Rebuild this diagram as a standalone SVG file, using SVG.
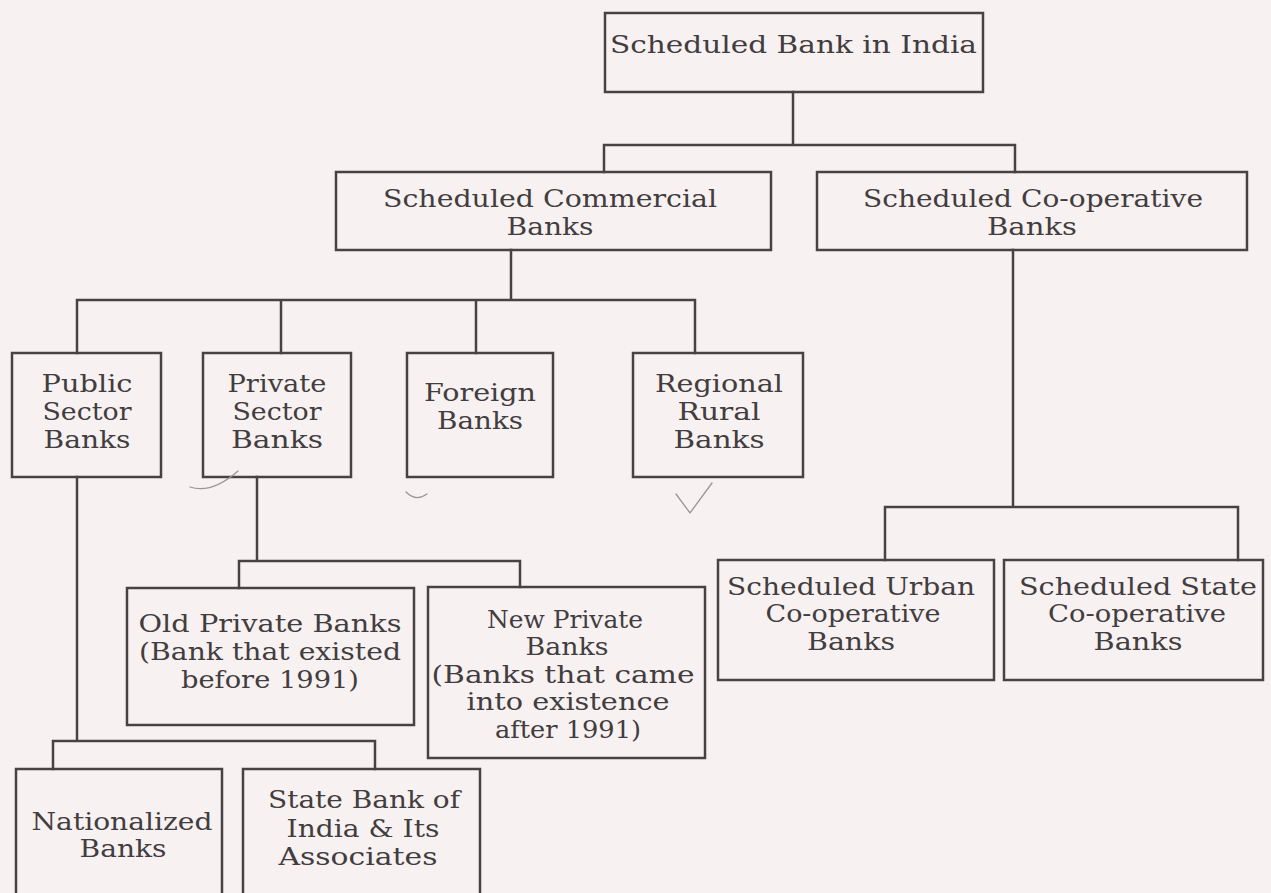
<svg xmlns="http://www.w3.org/2000/svg" width="1271" height="893" viewBox="0 0 1271 893">
<style>
.bg{fill:#f8f1f2}
.box{fill:none;stroke:#474344;stroke-width:2.5}
.ln{fill:none;stroke:#474344;stroke-width:2.5;stroke-linecap:square}
.t{font-family:"DejaVu Serif","Liberation Serif",serif;font-size:23.5px;fill:#423d3e;text-anchor:middle}
.big{font-size:25px}
.mark{fill:none;stroke:#9a9698;stroke-width:1.3;stroke-linecap:round}
</style>
<rect class="bg" x="0" y="0" width="1271" height="893"/>
<g id="connectors">
<path class="ln" d="M793 92V145M604 145H1015M604 145V172M1015 145V172"/>
<path class="ln" d="M511 250V300M77 300H695M77 300V353M281 300V353M476 300V353M695 300V353"/>
<path class="ln" d="M77 477V741M53 741H375M53 741V769M375 741V769"/>
<path class="ln" d="M257 477V561M239 561H520M239 561V588M520 561V587"/>
<path class="ln" d="M1013 250V507M885 507H1238M885 507V560M1238 507V560"/>
</g>
<g id="root">
<rect class="box" x="605" y="13" width="378" height="79"/>
<text class="t big" x="793.5" y="53" textLength="367" lengthAdjust="spacingAndGlyphs">Scheduled Bank in India</text>
</g>
<g id="commercial">
<rect class="box" x="336" y="172" width="435" height="78"/>
<text class="t big" x="550" y="207" textLength="334" lengthAdjust="spacingAndGlyphs">Scheduled Commercial</text>
<text class="t big" x="550" y="235" textLength="87" lengthAdjust="spacingAndGlyphs">Banks</text>
</g>
<g id="cooperative">
<rect class="box" x="817" y="172" width="430" height="78"/>
<text class="t big" x="1033" y="207" textLength="340" lengthAdjust="spacingAndGlyphs">Scheduled Co-operative</text>
<text class="t big" x="1032" y="235" textLength="90" lengthAdjust="spacingAndGlyphs">Banks</text>
</g>
<g id="public">
<rect class="box" x="12" y="353" width="149" height="124"/>
<text class="t" x="87" y="392" textLength="91" lengthAdjust="spacingAndGlyphs">Public</text>
<text class="t" x="87" y="420" textLength="89" lengthAdjust="spacingAndGlyphs">Sector</text>
<text class="t" x="87" y="448" textLength="87" lengthAdjust="spacingAndGlyphs">Banks</text>
</g>
<g id="private">
<rect class="box" x="203" y="353" width="148" height="124"/>
<text class="t" x="277" y="392" textLength="99" lengthAdjust="spacingAndGlyphs">Private</text>
<text class="t" x="277" y="420" textLength="89" lengthAdjust="spacingAndGlyphs">Sector</text>
<text class="t" x="277" y="448" textLength="92" lengthAdjust="spacingAndGlyphs">Banks</text>
</g>
<g id="foreign">
<rect class="box" x="407" y="353" width="146" height="124"/>
<text class="t" x="480" y="401" textLength="112" lengthAdjust="spacingAndGlyphs">Foreign</text>
<text class="t" x="480" y="429" textLength="86" lengthAdjust="spacingAndGlyphs">Banks</text>
</g>
<g id="regional">
<rect class="box" x="633" y="353" width="170" height="124"/>
<text class="t" x="719" y="392" textLength="128" lengthAdjust="spacingAndGlyphs">Regional</text>
<text class="t" x="719" y="420" textLength="83" lengthAdjust="spacingAndGlyphs">Rural</text>
<text class="t" x="719" y="448" textLength="91" lengthAdjust="spacingAndGlyphs">Banks</text>
</g>
<g id="old-private">
<rect class="box" x="127" y="588" width="287" height="137"/>
<text class="t" x="270" y="632" textLength="263" lengthAdjust="spacingAndGlyphs">Old Private Banks</text>
<text class="t" x="270" y="660" textLength="262" lengthAdjust="spacingAndGlyphs">(Bank that existed</text>
<text class="t" x="270" y="688" textLength="178" lengthAdjust="spacingAndGlyphs">before 1991)</text>
</g>
<g id="new-private">
<rect class="box" x="428" y="587" width="277" height="171"/>
<text class="t" x="565" y="628" textLength="156" lengthAdjust="spacingAndGlyphs">New Private</text>
<text class="t" x="567" y="655" textLength="83" lengthAdjust="spacingAndGlyphs">Banks</text>
<text class="t" x="563" y="683" textLength="263" lengthAdjust="spacingAndGlyphs">(Banks that came</text>
<text class="t" x="568" y="710" textLength="203" lengthAdjust="spacingAndGlyphs">into existence</text>
<text class="t" x="568" y="738" textLength="146" lengthAdjust="spacingAndGlyphs">after 1991)</text>
</g>
<g id="urban">
<rect class="box" x="718" y="560" width="276" height="120"/>
<text class="t" x="851" y="595" textLength="248" lengthAdjust="spacingAndGlyphs">Scheduled Urban</text>
<text class="t" x="853" y="622" textLength="175" lengthAdjust="spacingAndGlyphs">Co-operative</text>
<text class="t" x="851" y="650" textLength="88" lengthAdjust="spacingAndGlyphs">Banks</text>
</g>
<g id="state-coop">
<rect class="box" x="1004" y="560" width="259" height="120"/>
<text class="t" x="1138" y="595" textLength="238" lengthAdjust="spacingAndGlyphs">Scheduled State</text>
<text class="t" x="1137" y="622" textLength="178" lengthAdjust="spacingAndGlyphs">Co-operative</text>
<text class="t" x="1138" y="650" textLength="89" lengthAdjust="spacingAndGlyphs">Banks</text>
</g>
<g id="nationalized">
<rect class="box" x="16" y="769" width="206" height="140"/>
<text class="t" x="122" y="830" textLength="181" lengthAdjust="spacingAndGlyphs">Nationalized</text>
<text class="t" x="123" y="857" textLength="87" lengthAdjust="spacingAndGlyphs">Banks</text>
</g>
<g id="sbi">
<rect class="box" x="243" y="769" width="237" height="140"/>
<text class="t" x="364" y="808" textLength="192" lengthAdjust="spacingAndGlyphs">State Bank of</text>
<text class="t" x="363" y="837" textLength="153" lengthAdjust="spacingAndGlyphs">India &amp; Its</text>
<text class="t" x="358" y="865" textLength="159" lengthAdjust="spacingAndGlyphs">Associates</text>
</g>
<g id="pen-marks">
<path class="mark" d="M190 487Q212 494 238 471"/>
<path class="mark" d="M406 492Q416 502 427 494"/>
<path class="mark" d="M676 494L690 513L712 483"/>
</g>
</svg>
